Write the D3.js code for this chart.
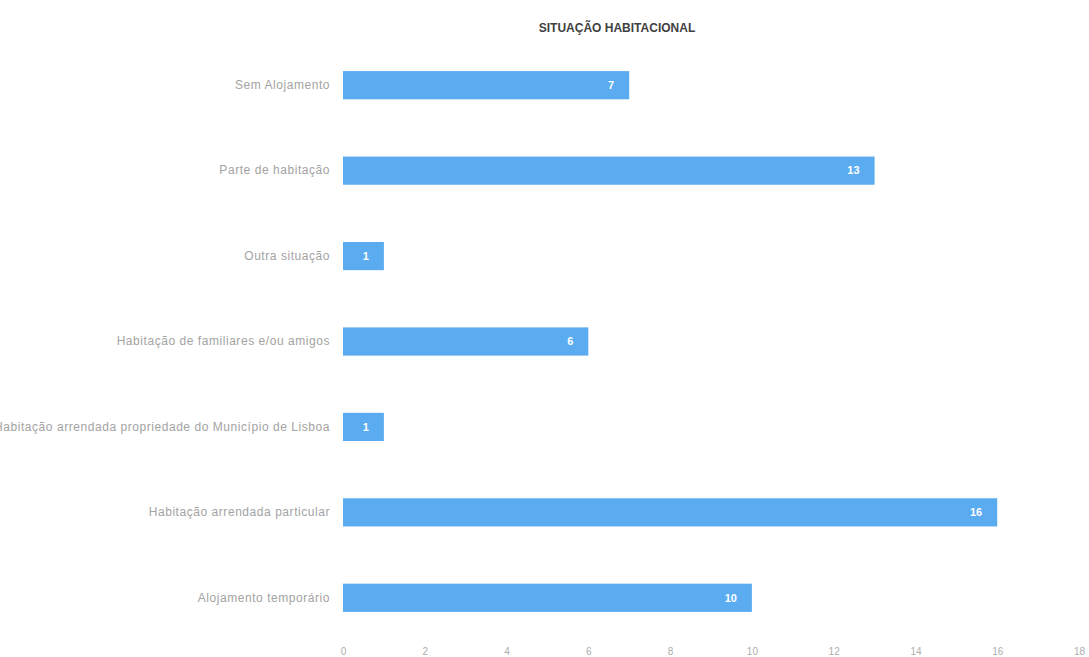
<!DOCTYPE html>
<html>
<head>
<meta charset="utf-8">
<script src="https://cdn.jsdelivr.net/npm/d3@7"></script>
<style>
  html, body { margin: 0; padding: 0; background: #ffffff; }
  svg { display: block; }
</style>
</head>
<body>
<svg id="chart" width="1089" height="657"></svg>
<script>
// Housing situation counts, top to bottom
const categories = [
  "Sem Alojamento",
  "Parte de habitação",
  "Outra situação",
  "Habitação de familiares e/ou amigos",
  "Habitação arrendada propriedade do Município de Lisboa",
  "Habitação arrendada particular",
  "Alojamento temporário"
];
const values = [7, 13, 1, 6, 1, 16, 10];
const xTicks = [0, 2, 4, 6, 8, 10, 12, 14, 16, 18];
const title = "SITUAÇÃO HABITACIONAL";

const data = categories.map((c, i) => ({ name: c, value: values[i] }));

const svg = d3.select("#chart");

const x = d3.scaleLinear().domain([0, 18]).range([343, 1079]);
const y = d3.scaleBand()
  .domain(categories)
  .range([42.5, 640.5])
  .paddingInner(0.67)
  .paddingOuter(0.335);

// Title
svg.append("text")
  .attr("x", 617)
  .attr("y", 32)
  .attr("text-anchor", "middle")
  .attr("font-family", "Liberation Sans, Arial, sans-serif")
  .attr("font-weight", "bold")
  .attr("font-size", 12)
  .attr("fill", "#3f3f3f")
  .text(title);

// Bars
svg.append("g")
  .selectAll("rect")
  .data(data)
  .join("rect")
  .attr("x", x(0))
  .attr("y", d => y(d.name))
  .attr("width", d => x(d.value) - x(0))
  .attr("height", y.bandwidth())
  .attr("fill", "#5aabf0");

// Value labels inside bar ends
svg.append("g")
  .selectAll("text")
  .data(data)
  .join("text")
  .attr("x", d => x(d.value) - 15)
  .attr("y", d => y(d.name) + y.bandwidth() / 2)
  .attr("dy", "0.35em")
  .attr("text-anchor", "end")
  .attr("font-family", "Liberation Sans, Arial, sans-serif")
  .attr("font-weight", "bold")
  .attr("font-size", 11)
  .attr("fill", "#ffffff")
  .text(d => d.value);

// Category axis
const yAxis = svg.append("g")
  .attr("transform", `translate(${x(0)},0)`)
  .call(d3.axisLeft(y).tickSize(0).tickPadding(13));
yAxis.select(".domain").remove();
yAxis.selectAll("text")
  .attr("font-family", "Liberation Sans, Arial, sans-serif")
  .attr("font-size", 12)
  .attr("letter-spacing", "0.55px")
  .attr("fill", "#a3a3a3");

// Value axis
const xAxis = svg.append("g")
  .attr("transform", "translate(0,640)")
  .call(d3.axisBottom(x).tickValues(xTicks).tickSize(0).tickPadding(8));
xAxis.select(".domain").remove();
xAxis.selectAll("text")
  .attr("font-family", "Liberation Sans, Arial, sans-serif")
  .attr("font-size", 10)
  .attr("fill", "#adadad");
</script>
</body>
</html>
